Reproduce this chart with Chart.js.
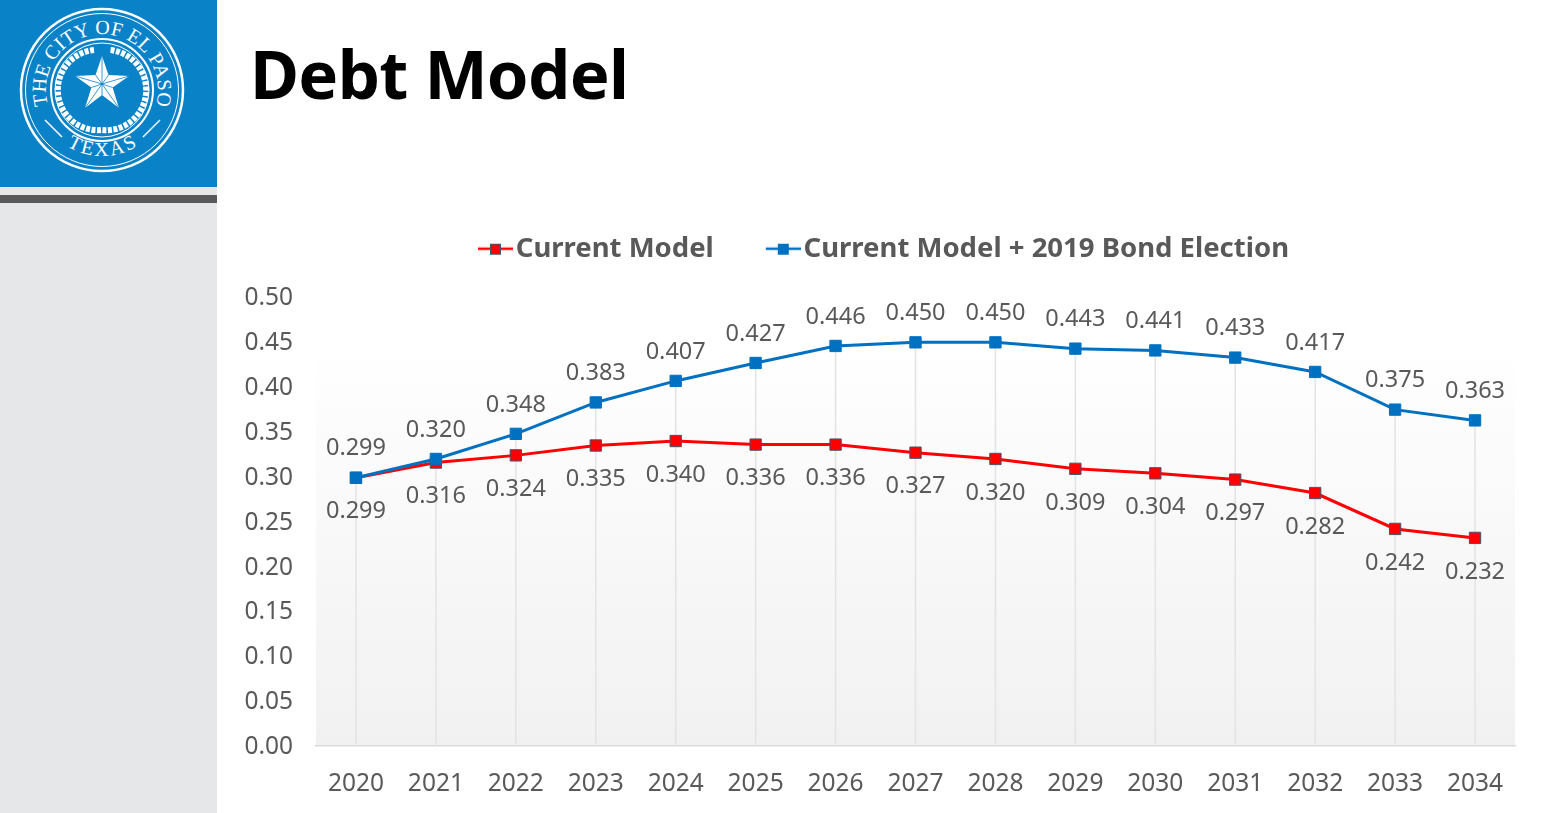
<!DOCTYPE html>
<html>
<head>
<meta charset="utf-8">
<title>Debt Model</title>
<script src="https://cdn.jsdelivr.net/npm/chart.js@4"></script>
<style>
  html, body { margin: 0; padding: 0; width: 1549px; height: 813px; overflow: hidden; background: #fff; }
  #sidebar { position: absolute; left: 0; top: 0; width: 217px; height: 813px; background: #e6e7e8; }
  #logoBox { position: absolute; left: 0; top: 0; width: 217px; height: 187px; background: #0a82c8; }
  #rule { position: absolute; left: 0; top: 195px; width: 217px; height: 8px; background: #58595b; }
  #title { position: absolute; left: 250px; top: 26px; font: bold 67px "Noto Sans", sans-serif; line-height: 94px; color: #000; letter-spacing: -0.7px; }
  #chartWrap { position: absolute; left: 217px; top: 200px; }
</style>
</head>
<body>
<div id="sidebar"></div>
<div id="logoBox">
  <svg width="217" height="187" viewBox="0 0 217 187">
    <defs>
      <path id="arcTop" d="M 48 105 A 56 56 0 1 1 156 105"/>
      <path id="arcBottom" d="M 67 146 A 66 66 0 0 0 137 146"/>
    </defs>
    <g fill="none" stroke="#fff">
      <circle cx="102" cy="90" r="81" stroke-width="2.5"/>
      <circle cx="102" cy="90" r="76.5" stroke-width="1"/>
      <circle cx="102" cy="90" r="51" stroke-width="2"/>
      <circle cx="102" cy="90" r="47" stroke-width="1"/>
      <path d="M 94 50 A 40 40 0 0 0 102 130 A 40 40 0 0 0 110 50" stroke-width="6" stroke-dasharray="4 1.5"/>
      <path d="M 45 120 L 62 137 M 160 120 L 143 137" stroke-width="1.5"/>
    </g>
    <path d="M102 56 L108.5 75 L129 76 L112.6 87.5 L119 108 L102 95 L85 108 L91.4 87.5 L75 76 L95.5 75 Z" fill="#fff"/>
    <path d="M102 56 L102 84 M129 76 L102 84 M119 108 L102 84 M85 108 L102 84 M75 76 L102 84 M108.5 75 L102 84 M112.6 87.5 L102 84 M102 95 L102 84 M91.4 87.5 L102 84 M95.5 75 L102 84" stroke="#0a82c8" stroke-width="0.8"/>
    <g fill="#fff" font-family="Liberation Serif, serif" font-size="20">
      <text><textPath href="#arcTop" textLength="206" lengthAdjust="spacing">THE CITY OF EL PASO</textPath></text>
      <text><textPath href="#arcBottom" textLength="74" lengthAdjust="spacing">TEXAS</textPath></text>
    </g>
  </svg>
</div>
<div id="rule"></div>
<div id="title">Debt Model</div>
<div id="chartWrap"><canvas id="debtChart" width="1332" height="613"></canvas></div>

<script>
const years = ['2020','2021','2022','2023','2024','2025','2026','2027','2028','2029','2030','2031','2032','2033','2034'];
const currentModel = [0.299,0.316,0.324,0.335,0.340,0.336,0.336,0.327,0.320,0.309,0.304,0.297,0.282,0.242,0.232];
const withBond = [0.299,0.320,0.348,0.383,0.407,0.427,0.446,0.450,0.450,0.443,0.441,0.433,0.417,0.375,0.363];

const TEXT = '#595959';
const FONT = '"Noto Sans", sans-serif';
const RED = '#ff0000';
const BLUE = '#0070c0';

// legend key: line with a square on it, blank on the left so it ends right next to the label
function legendKey(color, edge) {
  const c = document.createElement('canvas');
  c.width = 65; c.height = 14;
  const g = c.getContext('2d');
  g.strokeStyle = color; g.lineWidth = 2.5;
  g.beginPath(); g.moveTo(30, 7); g.lineTo(65, 7); g.stroke();
  g.fillStyle = color; g.strokeStyle = edge; g.lineWidth = 1;
  g.fillRect(42.5, 2.5, 10, 10); g.strokeRect(42.5, 2.5, 10, 10);
  return c;
}

// grey wash behind the plot
const plotBackground = {
  id: 'plotBackground',
  beforeDraw(chart) {
    const { ctx, chartArea: a, scales: { y } } = chart;
    const top = y.getPixelForValue(0.45);
    const grad = ctx.createLinearGradient(0, top, 0, a.bottom);
    grad.addColorStop(0, '#ffffff');
    grad.addColorStop(1, '#f1f1f1');
    ctx.save();
    ctx.fillStyle = grad;
    ctx.fillRect(a.left, top, a.right - a.left, a.bottom - top);
    ctx.restore();
  },
};

// drop lines from the upper series to the axis
const dropLines = {
  id: 'dropLines',
  beforeDatasetsDraw(chart) {
    const { ctx, scales: { x, y } } = chart;
    ctx.save();
    ctx.strokeStyle = '#e3e3e3';
    ctx.lineWidth = 1.5;
    years.forEach((yr, i) => {
      const px = x.getPixelForValue(i);
      ctx.beginPath();
      ctx.moveTo(px, y.getPixelForValue(Math.max(currentModel[i], withBond[i])));
      ctx.lineTo(px, y.getPixelForValue(0));
      ctx.stroke();
    });
    ctx.restore();
  },
};

// value labels: bond series above, current series below
const valueLabels = {
  id: 'valueLabels',
  afterDatasetsDraw(chart) {
    const { ctx } = chart;
    ctx.save();
    ctx.font = '23.5px ' + FONT;
    ctx.fillStyle = TEXT;
    ctx.textAlign = 'center';
    ctx.textBaseline = 'middle';
    chart.data.datasets.forEach((ds, d) => {
      const off = d === 0 ? 34 : -29;
      chart.getDatasetMeta(d).data.forEach((pt, i) => {
        ctx.fillText(ds.data[i].toFixed(3), pt.x, pt.y + off);
      });
    });
    ctx.restore();
  },
};

// extra room between the legend and the plot
const legendGap = {
  id: 'legendGap',
  beforeLayout(chart) {
    const legend = chart.legend;
    const fit = legend.fit;
    legend.fit = function () {
      fit.call(this);
      this.height += 25;
    };
  },
};

new Chart(document.getElementById('debtChart'), {
  type: 'line',
  data: {
    labels: years,
    datasets: [
      {
        label: 'Current Model',
        data: currentModel,
        borderColor: RED,
        backgroundColor: RED,
        pointBackgroundColor: RED,
        pointBorderColor: '#44546a',
        pointBorderWidth: 1,
        pointStyle: 'rect',
        pointRadius: 8,
        borderWidth: 3,
        tension: 0,
        order: 2,
      },
      {
        label: 'Current Model + 2019 Bond Election',
        data: withBond,
        borderColor: BLUE,
        backgroundColor: BLUE,
        pointBackgroundColor: BLUE,
        pointBorderColor: BLUE,
        pointBorderWidth: 1,
        pointStyle: 'rect',
        pointRadius: 8,
        borderWidth: 3,
        tension: 0,
        order: 1,
      },
    ],
  },
  options: {
    responsive: false,
    animation: false,
    layout: { padding: { top: 2, left: 16, right: 34 } },
    plugins: {
      tooltip: { enabled: false },
      legend: {
        position: 'top',
        labels: {
          usePointStyle: true,
          pointStyleWidth: 43,
          padding: 33,
          color: TEXT,
          font: { family: FONT, size: 27.5, weight: 'bold' },
          generateLabels(chart) {
            return chart.data.datasets.map((ds, i) => ({
              text: ds.label,
              fontColor: TEXT,
              datasetIndex: i,
              lineWidth: 0,
              pointStyle: legendKey(ds.borderColor, ds.pointBorderColor),
            }));
          },
        },
      },
    },
    scales: {
      x: {
        offset: true,
        grid: { display: false, drawTicks: false },
        border: { display: true, color: '#d9d9d9', width: 1.5 },
        ticks: { color: TEXT, font: { family: FONT, size: 24.5 }, padding: 23, maxRotation: 0 },
        afterFit(scale) { scale.height = 67; },
      },
      y: {
        min: 0,
        max: 0.5,
        grid: { display: false, drawTicks: false },
        border: { display: false },
        ticks: {
          stepSize: 0.05,
          color: TEXT,
          font: { family: FONT, size: 24.5 },
          padding: 23,
          labelOffset: 1,
          callback: v => v.toFixed(2),
        },
        afterFit(scale) { scale.width = 83; },
      },
    },
  },
  plugins: [plotBackground, dropLines, valueLabels, legendGap],
});
</script>
</body>
</html>
